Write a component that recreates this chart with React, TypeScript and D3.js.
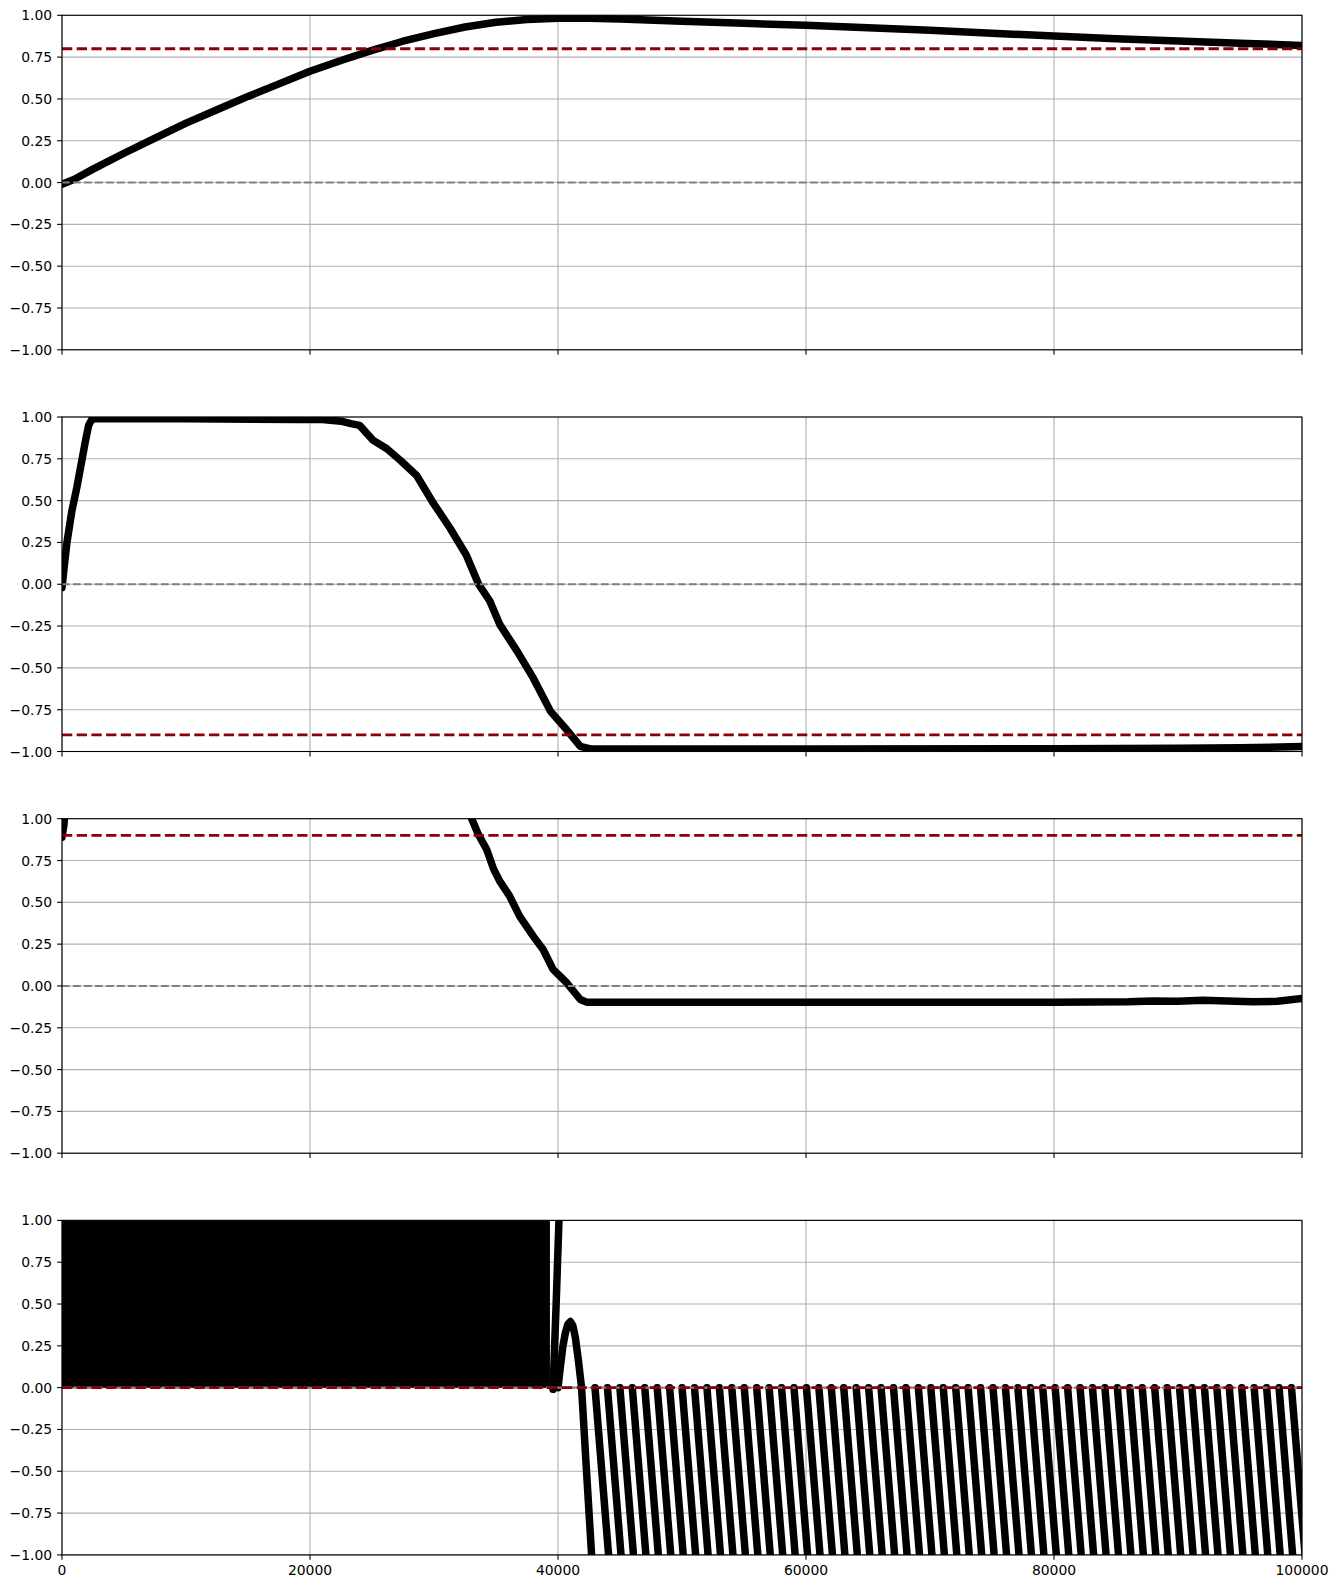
import * as d3 from 'd3';
import React from 'react';

// ---- data ----
const xTicks = [0, 20000, 40000, 60000, 80000, 100000];
const yTicks = [-1, -0.75, -0.5, -0.25, 0, 0.25, 0.5, 0.75, 1];
const thresholds = [0.8, -0.9, 0.9, 0.0];

const series1: [number, number][] = [
  [0, -0.01], [1000, 0.02], [2500, 0.08], [5000, 0.175], [7500, 0.265], [10000, 0.355],
  [12500, 0.435], [15000, 0.515], [17500, 0.59], [20000, 0.665], [22500, 0.73],
  [25000, 0.79], [27500, 0.845], [30000, 0.89], [32500, 0.93], [35000, 0.958],
  [37500, 0.975], [40000, 0.982], [42500, 0.982], [45000, 0.978], [50000, 0.965],
  [55000, 0.952], [60000, 0.94], [65000, 0.925], [70000, 0.91], [75000, 0.893],
  [80000, 0.876], [85000, 0.86], [90000, 0.847], [95000, 0.833], [100000, 0.82],
];

const series2: [number, number][] = [
  [0, -0.02], [200, 0.12], [400, 0.25], [800, 0.44], [1200, 0.58], [1600, 0.74],
  [1900, 0.86], [2150, 0.95], [2400, 0.985], [2700, 0.99], [10000, 0.99], [19000, 0.985],
  [21000, 0.985], [22500, 0.975], [23300, 0.96], [24000, 0.95], [25100, 0.86],
  [26200, 0.81], [27300, 0.74], [28600, 0.65], [29900, 0.49], [31300, 0.335],
  [32600, 0.175], [33600, 0.0], [34500, -0.1], [35300, -0.24], [36700, -0.4],
  [38000, -0.56], [39400, -0.76], [40700, -0.87], [41800, -0.97], [42600, -0.985],
  [60000, -0.985], [80000, -0.983], [90000, -0.98], [95000, -0.978], [100000, -0.97],
];

const series3: [number, number][] = [
  [0, 0.89], [150, 0.96], [300, 1.1], [32800, 1.1], [33040, 1.0], [33575, 0.906],
  [34250, 0.816], [34800, 0.7], [35300, 0.627], [36100, 0.537], [36900, 0.417],
  [38000, 0.298], [38800, 0.218], [39600, 0.099], [40700, 0.019], [41800, -0.081],
  [42300, -0.097], [60000, -0.097], [80000, -0.097], [86000, -0.095], [88000, -0.09],
  [90000, -0.092], [92000, -0.085], [94000, -0.09], [96000, -0.095], [98000, -0.092],
  [100000, -0.075],
];

// panel 4: dense oscillation band, then a spike, a bump and the sawtooth strokes
const band4: [number, number][] = [[0, 1.05], [39350, 1.05]];
const spike4: [number, number][] = [[39600, -0.01], [39850, 0.5], [40100, 1.05]];
const bump4: [number, number][] = [
  [40000, 0.0], [40200, 0.13], [40400, 0.25], [40600, 0.33], [40800, 0.38],
  [41000, 0.395], [41200, 0.37], [41400, 0.3], [41650, 0.16], [41900, 0.0],
  [42300, -0.5], [42750, -1.05],
];
const sawHeads = [
  42984, 43987, 44990, 45993, 46996, 47999, 49002, 50005, 51008, 52011, 53014, 54017,
  55020, 56023, 57026, 58029, 59032, 60035, 61038, 62041, 63044, 64047, 65050, 66053,
  67056, 68059, 69062, 70065, 71068, 72071, 73074, 74077, 75080, 76083, 77086, 78089,
  79092, 80095, 81098, 82101, 83104, 84107, 85110, 86113, 87116, 88119, 89122, 90125,
  91128, 92131, 93134, 94137, 95140, 96143, 97146, 98149, 99152,
];
const sawRun = 1150; // x-run of one stroke from 0 down to -1.05

// ---- layout ----
const W = 1338;
const H = 1589;
const LEFT = 62;
const RIGHT = 1302;
const TOP0 = 15.3;
const STEP = 401.7;
const PH = 334.5;
const LW = 7.5;

const fmtY = (v: number) => (v < 0 ? '\u2212' : '') + d3.format('.2f')(Math.abs(v));

const Panel = ({ idx, x, lines, band, threshold, last }) => {
  const top = TOP0 + idx * STEP;
  const bottom = top + PH;
  const y = d3.scaleLinear([-1, 1], [bottom, top]);
  const line = d3.line<[number, number]>().x((d) => x(d[0])).y((d) => y(d[1]));
  const area = d3
    .area<[number, number]>()
    .x((d) => x(d[0]))
    .y0(y(0))
    .y1((d) => y(d[1]));
  const clipId = `clip${idx}`;

  return (
    <g>
      <defs>
        <clipPath id={clipId}>
          <rect x={LEFT} y={top} width={RIGHT - LEFT} height={PH} />
        </clipPath>
      </defs>
      {/* grid */}
      <g stroke="#b0b0b0" strokeWidth={1.1}>
        {xTicks.map((t) => (
          <line key={'gx' + t} x1={x(t)} x2={x(t)} y1={top} y2={bottom} />
        ))}
        {yTicks.map((t) => (
          <line key={'gy' + t} x1={LEFT} x2={RIGHT} y1={y(t)} y2={y(t)} />
        ))}
      </g>
      <g clipPath={`url(#${clipId})`}>
        {band && <path d={area(band)} fill="black" />}
        {lines.map((l, i) => (
          <path
            key={i}
            d={line(l)}
            fill="none"
            stroke="black"
            strokeWidth={LW}
            strokeLinecap="round"
            strokeLinejoin="round"
          />
        ))}
        <line x1={LEFT} x2={RIGHT} y1={y(0)} y2={y(0)} stroke="#808080" strokeWidth={2.1} strokeDasharray="7.7 3.3" />
        <line
          x1={LEFT}
          x2={RIGHT}
          y1={y(threshold)}
          y2={y(threshold)}
          stroke="#8b0000"
          strokeWidth={2.8}
          strokeDasharray="10.3 4.4"
        />
      </g>
      <rect x={LEFT} y={top} width={RIGHT - LEFT} height={PH} fill="none" stroke="black" strokeWidth={1.1} />
      {/* y ticks */}
      {yTicks.map((t) => (
        <g key={'ty' + t}>
          <line x1={LEFT - 4.9} x2={LEFT} y1={y(t)} y2={y(t)} stroke="black" strokeWidth={1.1} />
          <text x={LEFT - 9.8} y={y(t)} dy="0.36em" textAnchor="end" fontSize={13.9} fill="black">
            {fmtY(t)}
          </text>
        </g>
      ))}
      {/* x ticks */}
      {xTicks.map((t) => (
        <g key={'tx' + t}>
          <line x1={x(t)} x2={x(t)} y1={bottom} y2={bottom + 4.9} stroke="black" strokeWidth={1.1} />
          {last && (
            <text x={x(t)} y={bottom + 9.8} dy="0.76em" textAnchor="middle" fontSize={13.9} fill="black">
              {t}
            </text>
          )}
        </g>
      ))}
    </g>
  );
};

export default function App() {
  const x = d3.scaleLinear([0, 100000], [LEFT, RIGHT]);
  const saw: [number, number][][] = sawHeads.map((h) => [
    [h, 0],
    [h + sawRun, -1.05],
  ]);
  const panels = [
    { lines: [series1], band: null, threshold: thresholds[0] },
    { lines: [series2], band: null, threshold: thresholds[1] },
    { lines: [series3], band: null, threshold: thresholds[2] },
    { lines: [spike4, bump4, ...saw], band: band4, threshold: thresholds[3] },
  ];
  return (
    <div style={{ position: 'absolute', left: 0, top: 0 }}>
      <svg width={W} height={H} style={{ display: 'block', background: '#fff' }} fontFamily="'DejaVu Sans', sans-serif">
        {panels.map((p, i) => (
          <Panel key={i} idx={i} x={x} lines={p.lines} band={p.band} threshold={p.threshold} last={i === 3} />
        ))}
      </svg>
    </div>
  );
}
